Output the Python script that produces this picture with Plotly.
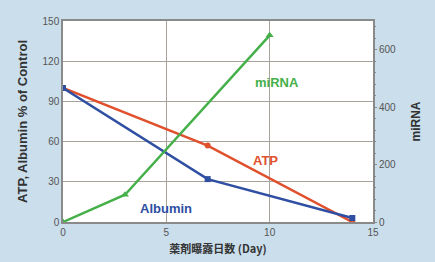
import plotly.graph_objects as go

days_atp = [0, 7, 14]
atp = [100, 57, 0]
days_alb = [0, 7, 14]
albumin = [100, 32, 3]
days_mirna = [0, 3, 10]
mirna = [0, 95, 650]

x_ticks = [0, 5, 10, 15]
y_ticks = [0, 30, 60, 90, 120, 150]
y2_ticks = [0, 200, 400, 600]

red = "#e0502c"
blue = "#2f4fa2"
green = "#45b04a"
bg = "#cadeeb"

fig = go.Figure()
fig.add_trace(go.Scatter(x=days_mirna, y=mirna, mode="lines+markers", yaxis="y2",
                         line=dict(color=green, width=2.5),
                         marker=dict(symbol="triangle-up", size=7, color=green)))
fig.add_trace(go.Scatter(x=days_atp, y=atp, mode="lines+markers",
                         line=dict(color=red, width=2.5),
                         marker=dict(symbol="circle", size=6, color=red)))
fig.add_trace(go.Scatter(x=days_alb, y=albumin, mode="lines+markers",
                         line=dict(color=blue, width=2.5),
                         marker=dict(symbol="square", size=6, color=blue)))

fig.add_annotation(x=10.35, y=104, text="<b>miRNA</b>", showarrow=False,
                   font=dict(color=green, size=13, family="Arial"))
fig.add_annotation(x=9.8, y=46, text="<b>ATP</b>", showarrow=False,
                   font=dict(color=red, size=13, family="Arial"))
fig.add_annotation(x=5.0, y=10, text="<b>Albumin</b>", showarrow=False,
                   font=dict(color=blue, size=13, family="Arial"))

tickfont = dict(size=10, color="#555555", family="Arial")
fig.update_layout(
    width=435, height=262,
    margin=dict(l=63, r=62, t=21, b=40),
    paper_bgcolor=bg,
    plot_bgcolor="#ffffff",
    showlegend=False,
    xaxis=dict(range=[0, 15], tickvals=x_ticks, showgrid=True, gridcolor="#a8a29a",
               gridwidth=1, zeroline=False, showline=True, linecolor="#8a8a8a",
               mirror=True, linewidth=1.5, tickfont=tickfont, ticks="", automargin=False,
               title=dict(text="<b>薬剤曝露日数 (Day)</b>", font=dict(size=11, color="#333333",
                          family="Noto Sans CJK JP"), standoff=9)),
    yaxis=dict(range=[0, 150], tickvals=y_ticks, showgrid=True, gridcolor="#a8a29a",
               gridwidth=1, zeroline=False, showline=True, linecolor="#8a8a8a",
               mirror=True, linewidth=1.5, tickfont=tickfont, ticks="", automargin=False,
               title=dict(text="<b>ATP, Albumin % of Control</b>",
                          font=dict(size=13, color="#333333", family="Arial"), standoff=12)),
    yaxis2=dict(range=[0, 700], tickvals=y2_ticks, overlaying="y", side="right",
                showgrid=False, zeroline=False, tickfont=tickfont, automargin=False,
                ticks="outside", ticklen=3, tickcolor="#8a8a8a",
                minor=dict(ticks="outside", ticklen=2, dtick=40, tickcolor="#8a8a8a"),
                title=dict(text="<b>miRNA</b>", font=dict(size=12, color="#333333",
                           family="Arial"), standoff=16)),
)
fig.write_html("out.html", config={"displayModeBar": False},
               post_script="document.body.style.margin='0';document.body.style.background='" + bg + "';")
